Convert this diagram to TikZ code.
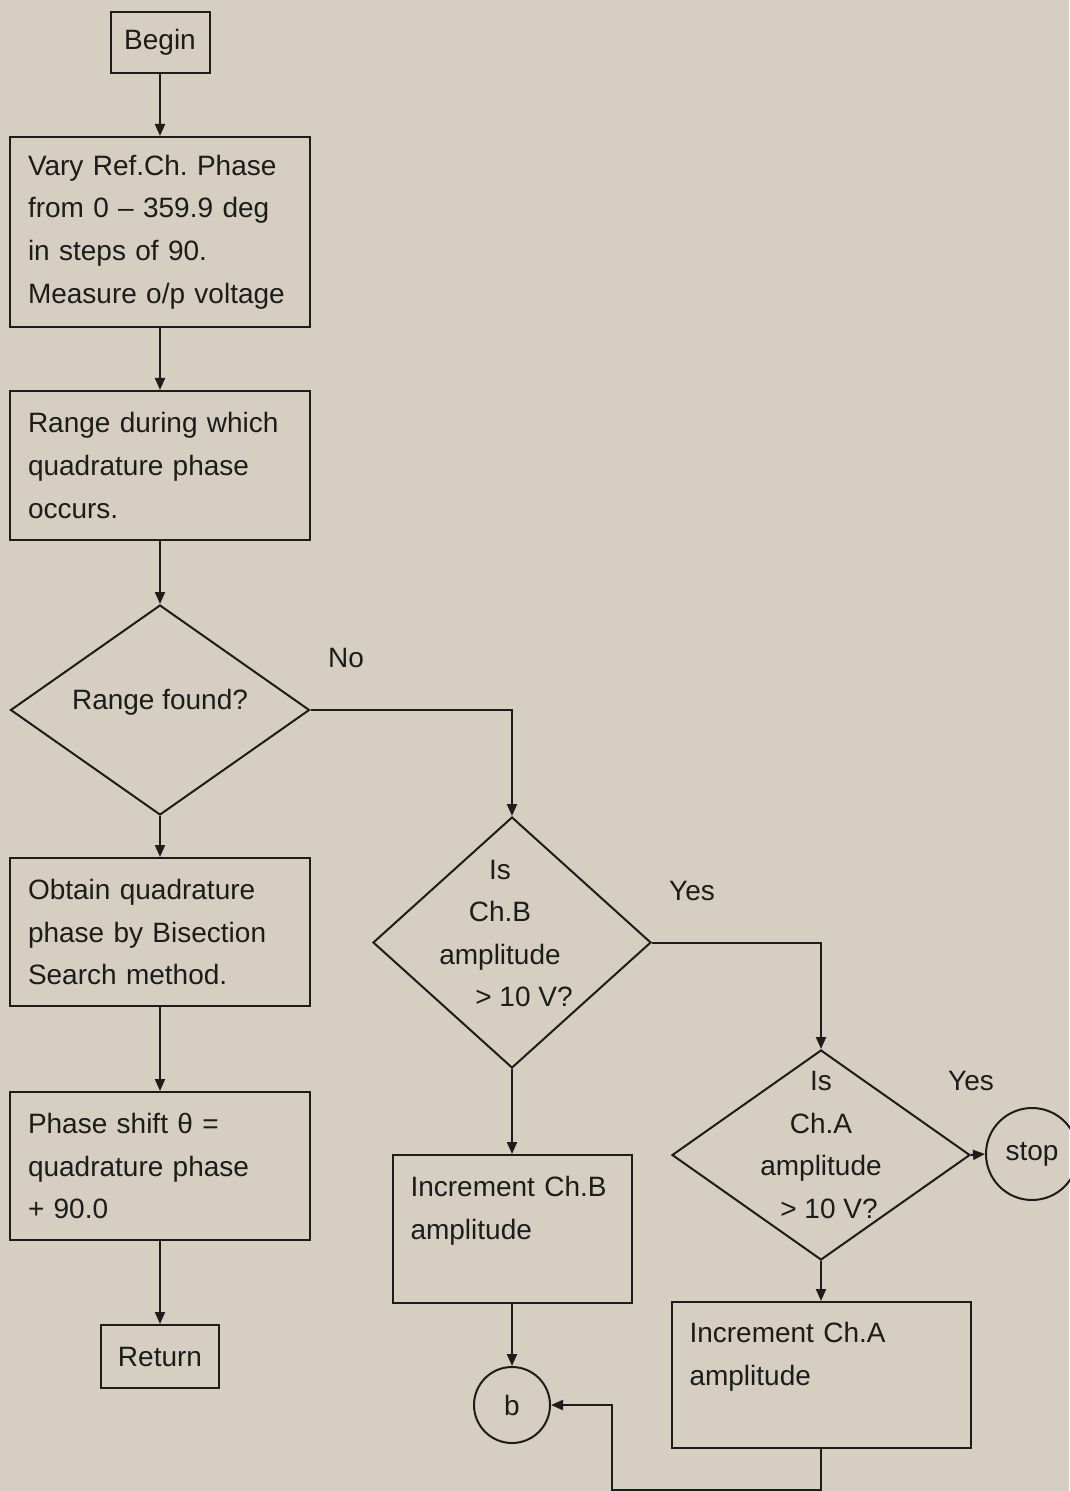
\documentclass[tikz,border=0pt]{standalone}
\usepackage{fontspec}
\setmainfont{Liberation Sans}
\usetikzlibrary{shapes.geometric,arrows.meta}
\definecolor{paper}{RGB}{213,206,193}
\definecolor{ink}{RGB}{28,28,28}
\frenchspacing

\begin{document}
\begin{tikzpicture}[x=0.5pt, y=-0.5pt, font=\fontsize{14}{21.3}\selectfont, color=ink, line width=1pt]

        % Styles
        \tikzstyle{box} = [draw, rectangle, inner xsep=9pt, inner ysep=0pt, align=left]
        \tikzstyle{term} = [draw, rectangle, inner sep=0pt]
        \tikzstyle{decision} = [draw, diamond, inner sep=0pt]
        \tikzstyle{joint} = [draw, circle, inner sep=0pt]
        \tikzstyle{flow} = [-{Triangle[length=6pt, width=5pt]}]
        \tikzstyle{tag} = [inner sep=0pt]

        % Page
        \useasboundingbox (0,0) rectangle (1069,1491);
        \fill[paper] (0,0) rectangle (1069,1491);

        % Main column
        \node[term, minimum width=49.5pt, minimum height=30.5pt] (begin) at (160,42.5) {Begin};
        \node[box, text width=132pt, minimum height=95pt] (vary) at (160,232) {Vary Ref.Ch. Phase\\from 0 -- 359.9 deg\\in steps of 90.\\Measure o/p voltage};
        \node[box, text width=132pt, minimum height=74.5pt] (range) at (160,465.5) {Range during which\\quadrature phase\\occurs.};
        \node[decision, minimum width=149.5pt, minimum height=105pt, label={[yshift=4pt]center:Range found?}] (found) at (160,710) {};
        \node[box, text width=132pt, minimum height=74pt] (bisect) at (160,932) {Obtain quadrature\\phase by Bisection\\Search method.};
        \node[box, text width=132pt, minimum height=74pt] (shift) at (160,1166) {Phase shift θ =\\quadrature phase\\+ 90.0};
        \node[term, minimum width=59pt, minimum height=31.5pt] (return) at (160,1356.5) {Return};

        % Amplitude checks
        \node[decision, minimum width=139pt, minimum height=125.5pt, label={[align=center, xshift=-6pt, yshift=4.5pt]center:{Is\\Ch.B\\amplitude\\\hspace*{24pt}> 10 V?}}] (chb) at (512,942.5) {};
        \node[box, text width=101.5pt, minimum height=74pt] (incb) at (512,1229) {Increment Ch.B\\amplitude\\\mbox{}};
        \node[joint, minimum size=38pt] (b) at (512,1405) {b};
        \node[decision, minimum width=149pt, minimum height=105pt, label={[align=center, yshift=5pt]center:{Is\\Ch.A\\amplitude\\\hspace*{8pt}> 10 V?}}] (cha) at (821,1155) {};
        \node[box, text width=131.5pt, minimum height=73pt] (inca) at (821,1375) {Increment Ch.A\\amplitude\\\mbox{}};
        \node[joint, minimum size=46pt] (stop) at (1032,1154) {stop};

        % Branch labels
        \node[tag] (no) at (346,658) {No};
        \node[tag] (yesb) at (692,891) {Yes};
        \node[tag] (yesa) at (971,1081) {Yes};

        % Connectors
        \draw[flow] (begin.south) -- (vary.north);
        \draw[flow] (vary.south) -- (range.north);
        \draw[flow] (range.south) -- (found.north);
        \draw[flow] (found.south) -- (bisect.north);
        \draw[flow] (bisect.south) -- (shift.north);
        \draw[flow] (shift.south) -- (return.north);
        \draw[flow] (found.east) -| (chb.north);
        \draw[flow] (chb.east) -| (cha.north);
        \draw[flow] (chb.south) -- (incb.north);
        \draw[flow] (incb.south) -- (b.north);
        \draw[flow] (cha.east) -- (stop.west);
        \draw[flow] (cha.south) -- (inca.north);
        \coordinate (loop) at (612,1490);
        \draw[flow] (inca.south) |- (loop) |- (b.east);

    \end{tikzpicture}
\end{document}
